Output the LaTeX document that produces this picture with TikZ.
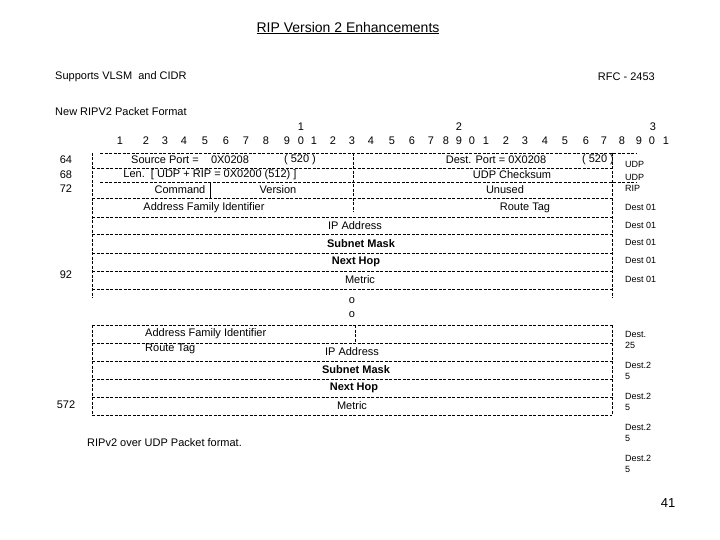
\documentclass[tikz,border=0pt]{standalone}
\usepackage{fontspec}
\setmainfont{Liberation Sans}
\begin{document}
\begin{tikzpicture}[x=1pt,y=-1pt,
  t/.style={inner sep=0pt,font=\fontsize{11}{12}\selectfont},
  s/.style={inner sep=0pt,font=\fontsize{9}{10}\selectfont},
  b/.style={inner sep=0pt,font=\fontsize{11}{12}\selectfont\bfseries},
  dl/.style={dashed,dash pattern=on 3pt off 1.5pt,line width=0.6pt}]
\useasboundingbox (0,0) rectangle (720,540);
\node[inner sep=0pt,font=\fontsize{14}{16}\selectfont] (title) at (348,28) {\underline{RIP Version 2 Enhancements}};
\node[t,anchor=west] (sup) at (55,77) {Supports VLSM\ \ and CIDR};
\node[t,anchor=east] (rfc) at (655,77) {RFC - 2453};
\node[t,anchor=west] (new) at (55,112) {New RIPV2 Packet Format};
% column numbers
\foreach \x/\d [count=\i] in {120/1,146/2,165/3,184/4,205/5,226/6,246/7,266/8,287/9,301/0,314/1,333/2,352/3,371/4,392/5,412/6,431/7,446/8,459/9,472/0,486/1,506/2,525/3,545/4,565/5,586/6,604/7,622/8,639/9,652/0,666/1}
  \node[t] (c\i) at (\x,141) {\d};
\node[t] (t1) at (301,127) {1};
\node[t] (t2) at (459,127) {2};
\node[t] (t3) at (653,127) {3};
% left offsets
\node[t] (o64) at (66,160) {64};
\node[t] (o68) at (66,175) {68};
\node[t] (o72) at (66,189) {72};
\node[t] (o92) at (66,275) {92};
\node[t] (o572) at (66,405) {572};
% upper table lines
\draw[dl] (92,153) -- (92,298);
\draw[dl] (612,153) -- (612,298);
\draw[dl] (353,153) -- (353,212);
\draw (210,182) -- (210,198);
\draw[dl] (100,153) -- (637,153);
\draw[dl] (92,168) -- (612,168);
\draw[dl] (100,182) -- (637,182);
\foreach \y in {198,217,234,253,271,289} \draw[dl] (92,\y) -- (612,\y);
\node[t] (sp) at (165,160) {Source Port =};
\node[t] (sp2) at (230,160) {0X0208};
\node[t] (sp3) at (300,160) {( 520 )};
\node[t] (len) at (210,175) {Len.\ \ [ UDP + RIP = 0X0200 (512) ]};
\node[t] (cmd) at (180,190) {Command};
\node[t] (ver) at (278,190) {Version};
\node[t] (afi) at (204,208) {Address Family Identifier};
\node[t] (dp) at (496,160) {Dest. Port = 0X0208};
\node[t] (dp2) at (598,160) {( 520 )};
\node[t] (cs) at (512,175) {UDP Checksum};
\node[t] (un) at (505,190) {Unused};
\node[t] (rt) at (525,208) {Route Tag};
\node[t] (ip) at (355,226) {IP Address};
\node[b] (sm) at (361,244) {Subnet Mask};
\node[b] (nh) at (356,262) {Next Hop};
\node[t] (me) at (360,280) {Metric};
\node[t] (d1) at (352,301) {o};
\node[t] (d2) at (352,315) {o};
\node[s,anchor=west] (u1) at (625,164) {UDP};
\node[s,anchor=west] (u2) at (625,177) {UDP};
\node[s,anchor=west] (r1) at (625,188) {RIP};
\foreach \y [count=\i] in {207,225,242,260,279}
  \node[s,anchor=west] (de\i) at (625,\y) {Dest 01};
% lower table
\draw[dl] (92,325) -- (92,415);
\draw[dl] (612,325) -- (612,415);
\draw[dl] (355,325) -- (355,343);
\foreach \y in {325,343,361,379,397,415} \draw[dl] (92,\y) -- (612,\y);
\node[t,anchor=west] (afi2) at (145,334) {Address Family Identifier};
\node[t,anchor=west] (rt2) at (145,349) {Route Tag};
\node[t] (ip2) at (352,352) {IP Address};
\node[b] (sm2) at (356,370) {Subnet Mask};
\node[b] (nh2) at (354,388) {Next Hop};
\node[t] (me2) at (352,406) {Metric};
\node[s,anchor=west,align=left] (e1) at (625,340) {Dest.\\[1pt]25};
\foreach \y [count=\i] in {371,402,433,464}
  \node[s,anchor=west,align=left] (e\i x) at (625,\y) {Dest.2\\[1pt]5};
\node[t,anchor=west] (cap) at (87,443) {RIPv2 over UDP Packet format.};
\node[inner sep=0pt,font=\fontsize{13}{14}\selectfont] (pg) at (668,503) {41};
\end{tikzpicture}
\end{document}
